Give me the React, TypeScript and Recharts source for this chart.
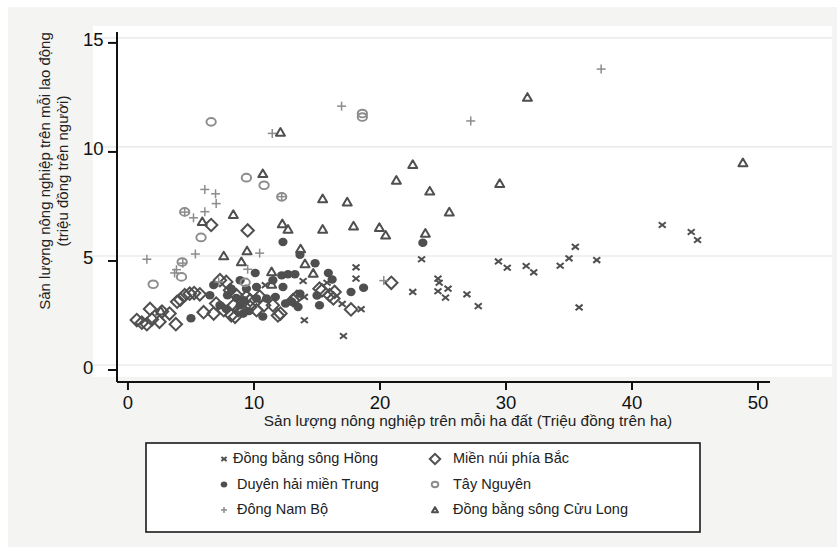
import React from "react";
import { ScatterChart, Scatter, XAxis, YAxis, ReferenceLine } from "recharts";

// tick values
const xTicks = [0, 10, 20, 30, 40, 50];
const yTicks = [0, 5, 10, 15];

// region names (legend order, row by row)
const regionNames = [
    "Đồng bằng sông Hồng",
    "Miền núi phía Bắc",
    "Duyên hải miền Trung",
    "Tây Nguyên",
    "Đông Nam Bộ",
    "Đồng bằng sông Cửu Long",
];

// [output per ha, output per worker]
const dongBangSongHong: [number, number][] = [
    [42.4, 6.65], [44.7, 6.33], [45.2, 5.96], [35.5, 5.65], [35.0, 5.12], [34.3, 4.78],
    [37.2, 5.04], [35.8, 2.87], [31.6, 4.77], [32.2, 4.48], [30.1, 4.69], [29.4, 4.98],
    [23.3, 5.08], [24.6, 4.19], [24.7, 4.0], [25.4, 3.73], [24.6, 3.61], [25.2, 3.32],
    [26.9, 3.47], [27.8, 2.93], [22.6, 3.58], [18.1, 4.71], [18.1, 4.19], [13.9, 4.08],
    [14.0, 2.28], [17.1, 1.56], [18.5, 2.79], [17.0, 3.03], [14.0, 3.35], [10.9, 3.89],
    [15.8, 4.0],
];

const mienNuiPhiaBac: [number, number][] = [
    [0.7, 2.29], [1.1, 2.17], [1.5, 2.1], [1.9, 2.32], [1.75, 2.8], [2.5, 2.21], [2.7, 2.68],
    [3.3, 2.59], [3.8, 2.1], [3.9, 3.13], [4.15, 3.23], [4.5, 3.43], [4.9, 3.5], [5.25, 3.53],
    [5.7, 3.47], [6.0, 2.65], [6.6, 6.65], [6.8, 2.59], [7.0, 3.05], [7.3, 4.12], [7.6, 2.74],
    [7.8, 4.04], [8.1, 3.66], [8.4, 2.97], [8.5, 2.44], [8.75, 2.74], [8.2, 2.51], [8.6, 3.43],
    [9.15, 2.74], [9.5, 6.4], [9.4, 3.35], [9.7, 2.89], [9.7, 3.2], [10.2, 2.74], [10.45, 3.37],
    [10.8, 2.97], [11.5, 2.97], [11.9, 2.5], [12.1, 2.59], [13.1, 3.2], [13.4, 3.35], [15.2, 3.73],
    [15.4, 3.65], [16.0, 3.43], [16.3, 3.28], [16.4, 3.58], [17.7, 2.78], [20.9, 4.0],
];

const duyenHaiMienTrung: [number, number][] = [
    [5.0, 2.37], [6.8, 3.9], [6.5, 3.43], [7.3, 2.97], [7.9, 3.43], [8.2, 3.73], [8.9, 4.12],
    [9.4, 3.73], [8.9, 2.97], [9.15, 2.59], [8.6, 3.3], [9.2, 3.2], [10.1, 4.45], [10.2, 3.81],
    [10.2, 3.28], [11.0, 3.28], [11.5, 4.12], [11.7, 3.35], [10.7, 2.45], [12.3, 5.87],
    [12.2, 4.34], [12.7, 4.39], [13.25, 4.39], [12.3, 3.81], [12.5, 3.05], [13.0, 3.13],
    [13.5, 2.89], [13.65, 5.28], [13.65, 3.5], [14.85, 4.9], [15.0, 3.42], [15.2, 2.97],
    [15.9, 4.45], [16.2, 4.15], [17.7, 3.58], [18.7, 3.77], [23.4, 5.84], [7.8, 2.8], [9.6, 2.7],
];

const tayNguyen: [number, number][] = [
    [2.0, 3.93], [4.3, 4.95], [4.25, 4.27], [4.5, 7.25], [5.8, 6.08], [6.6, 11.38],
    [9.4, 8.82], [10.8, 8.47], [12.2, 7.94], [18.6, 11.76], [18.6, 11.6], [9.3, 4.02],
];

const dongNamBo: [number, number][] = [
    [1.5, 5.08], [3.7, 4.45], [3.85, 4.6], [4.35, 4.9], [4.5, 7.24], [5.2, 6.98], [5.35, 5.32],
    [6.1, 7.26], [6.1, 8.28], [7.0, 7.63], [6.95, 8.08], [7.2, 4.04], [9.5, 4.62], [10.45, 5.36],
    [11.45, 10.85], [12.2, 7.95], [16.95, 12.1], [20.3, 4.1], [27.2, 11.42], [37.55, 13.8],
];

const dongBangCuuLong: [number, number][] = [
    [2.6, 2.7], [5.9, 6.8], [7.6, 5.23], [8.36, 7.13], [9.0, 4.96], [9.45, 5.46], [10.7, 9.0],
    [11.4, 4.5], [11.4, 3.93], [12.1, 10.9], [12.25, 6.7], [12.7, 6.45], [13.7, 5.55],
    [14.05, 4.87], [14.7, 4.43], [15.45, 7.85], [15.45, 6.45], [17.4, 7.7], [17.9, 6.6],
    [19.95, 6.53], [20.45, 6.18], [21.3, 8.7], [22.6, 9.42], [23.6, 6.27], [23.95, 8.2],
    [25.5, 7.24], [29.5, 8.55], [31.7, 12.5], [48.8, 9.5],
];

const DARK = "#4f4f4f";
const LIGHT = "#8c8c8c";
const FONT = "'Liberation Sans', Arial, sans-serif";

const toPoints = (arr: [number, number][]) => arr.map(([x, y]) => ({ x, y }));

// marker shapes
const XMark = ({ cx, cy, s = 3.5 }: any) => (
    <g stroke={DARK} strokeWidth={2}>
        <line x1={cx - s} y1={cy - s * 0.8} x2={cx + s} y2={cy + s * 0.8} />
        <line x1={cx - s} y1={cy + s * 0.8} x2={cx + s} y2={cy - s * 0.8} />
    </g>
);
const Diamond = ({ cx, cy, s = 6.2 }: any) => (
    <path
        d={`M${cx - s},${cy} L${cx},${cy - s} L${cx + s},${cy} L${cx},${cy + s} Z`}
        fill="none"
        stroke={DARK}
        strokeWidth={2}
    />
);
const Dot = ({ cx, cy, r = 4.6 }: any) => <ellipse cx={cx} cy={cy} rx={r} ry={r * 0.92} fill={DARK} />;
const Ring = ({ cx, cy, r = 4.7 }: any) => (
    <ellipse cx={cx} cy={cy} rx={r} ry={r * 0.82} fill="none" stroke={LIGHT} strokeWidth={1.9} />
);
const Plus = ({ cx, cy, s = 4.5 }: any) => (
    <g stroke={LIGHT} strokeWidth={1.5}>
        <line x1={cx - s} y1={cy} x2={cx + s} y2={cy} />
        <line x1={cx} y1={cy - s} x2={cx} y2={cy + s} />
    </g>
);
const Triangle = ({ cx, cy, s = 4.5 }: any) => (
    <path
        d={`M${cx - s},${cy + s * 0.75} L${cx + s},${cy + s * 0.75} L${cx},${cy - s * 0.95} Z`}
        fill="none"
        stroke={DARK}
        strokeWidth={2}
        strokeLinejoin="round"
    />
);

const series = [
    { name: regionNames[0], data: dongBangSongHong, Shape: XMark },
    { name: regionNames[1], data: mienNuiPhiaBac, Shape: Diamond },
    { name: regionNames[2], data: duyenHaiMienTrung, Shape: Dot },
    { name: regionNames[3], data: tayNguyen, Shape: Ring },
    { name: regionNames[4], data: dongNamBo, Shape: Plus },
    { name: regionNames[5], data: dongBangCuuLong, Shape: Triangle },
];

const YTick = ({ x, y, payload }: any) => (
    <text x={x - 20} y={y} dy={3.5} textAnchor="start" fontSize={18.5} fill="#111" fontFamily={FONT}>
        {payload.value}
    </text>
);
const XTick = ({ x, y, payload }: any) => (
    <text x={x} y={y} dy={13.5} textAnchor="middle" fontSize={18.5} fill="#111" fontFamily={FONT}>
        {payload.value}
    </text>
);

// legend symbols, same order as regionNames
const legendSymbols = [
    <XMark cx={0} cy={0} s={2.6} />,
    <Diamond cx={0} cy={0} s={5.2} />,
    <Dot cx={0} cy={0} r={3.3} />,
    <Ring cx={0} cy={0} r={3.3} />,
    <Plus cx={0} cy={0} s={3} />,
    <Triangle cx={0} cy={0} s={3} />,
];

const App = () => {
    return (
        <div style={{ position: "relative", width: 837, height: 547, background: "#fff", fontFamily: FONT }}>
            <style>{"body{margin:0}"}</style>
            <div style={{ position: "absolute", left: 8, top: 7, right: 0, bottom: 0, background: "#f4f4f2" }} />
            <div style={{ position: "absolute", left: 93, top: 26, width: 739, height: 351, background: "#fff" }} />
            <div style={{ position: "absolute", left: 0, top: 0 }}>
                <ScatterChart
                    width={837}
                    height={547}
                    margin={{ top: 32, right: 67, bottom: 125, left: 87 }}
                >
                    {yTicks.map((v) => (
                        <ReferenceLine
                            key={v}
                            segment={[
                                { x: -2.78, y: v + 0.23 },
                                { x: 55.87, y: v + 0.23 },
                            ]}
                            ifOverflow="visible"
                            stroke="#ececec"
                            strokeWidth={1.6}
                        />
                    ))}
                    <XAxis
                        type="number"
                        dataKey="x"
                        domain={[-0.87, 50.95]}
                        allowDataOverflow
                        ticks={xTicks}
                        tick={<XTick />}
                        tickSize={8}
                        tickMargin={5}
                        height={40}
                        axisLine={{ stroke: "#111", strokeWidth: 2 }}
                        tickLine={{ stroke: "#111", strokeWidth: 2 }}
                    />
                    <YAxis
                        type="number"
                        dataKey="y"
                        domain={[-0.55, 15.5]}
                        allowDataOverflow
                        ticks={yTicks}
                        tick={<YTick />}
                        tickSize={9}
                        tickMargin={5}
                        width={30}
                        axisLine={{ stroke: "#111", strokeWidth: 2 }}
                        tickLine={{ stroke: "#111", strokeWidth: 2 }}
                    />
                    {series.map(({ name, data, Shape }) => (
                        <Scatter
                            key={name}
                            name={name}
                            data={toPoints(data)}
                            isAnimationActive={false}
                            shape={(props: any) => <Shape cx={props.cx} cy={props.cy} />}
                        />
                    ))}
                </ScatterChart>
            </div>
            <svg
                width={837}
                height={547}
                style={{ position: "absolute", left: 0, top: 0, pointerEvents: "none" }}
                fontFamily={FONT}
            >
                <text x={468} y={426} textAnchor="middle" fontSize={15.4} fill="#222">
                    Sản lượng nông nghiệp trên mỗi ha đất (Triệu đồng trên ha)
                </text>
                <g transform="translate(50,171) rotate(-90)">
                    <text x={0} y={0} textAnchor="middle" fontSize={15} fill="#222">
                        Sản lượng nông nghiệp trên mỗi lao động
                    </text>
                </g>
                <g transform="translate(67.5,171) rotate(-90)">
                    <text x={0} y={0} textAnchor="middle" fontSize={15} fill="#222">
                        (triệu đồng trên người)
                    </text>
                </g>
                <rect x={146} y={443} width={554} height={89} fill="#fff" stroke="#1a1a1a" strokeWidth={1.6} />
                {regionNames.map((name, i) => {
                    const col = i % 2;
                    const row = Math.floor(i / 2);
                    const cy = 458 + row * 25.5;
                    const sx = col === 0 ? 224 : 435;
                    const tx = col === 0 ? (row === 0 ? 233 : 237) : 453;
                    return (
                        <g key={name}>
                            <g transform={`translate(${sx},${cy + 1})`}>{legendSymbols[i]}</g>
                            <text x={tx} y={cy + 5} fontSize={14.5} fill="#222">
                                {name}
                            </text>
                        </g>
                    );
                })}
            </svg>
        </div>
    );
};

export default App;
